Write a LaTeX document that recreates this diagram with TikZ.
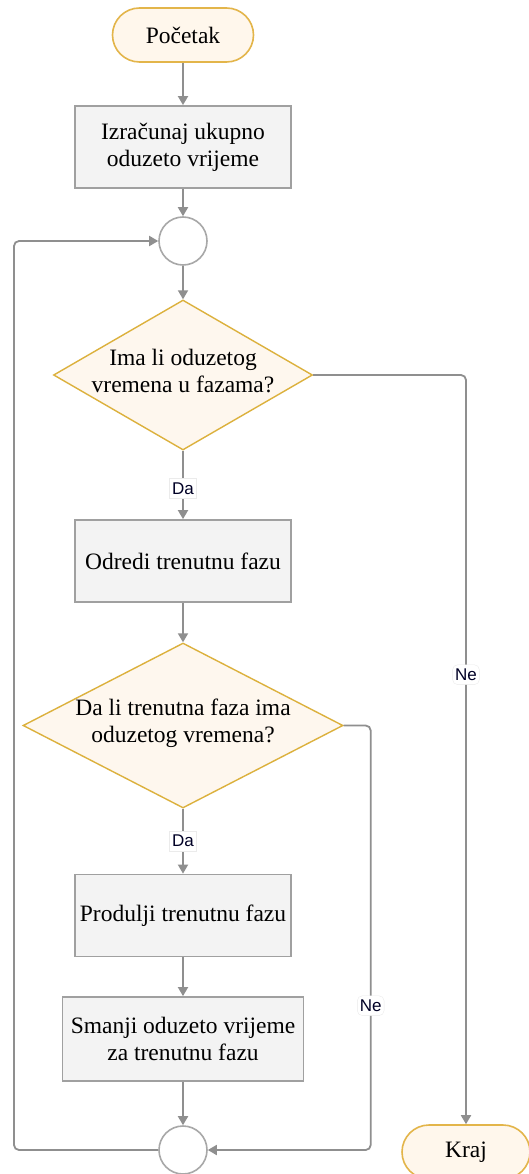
\documentclass[tikz,border=0pt]{standalone}
\usepackage{fontspec}
\setmainfont{Liberation Serif}
\newfontfamily\labfont{Liberation Sans}
\usetikzlibrary{shapes.geometric,arrows.meta}
\definecolor{linec}{HTML}{8F8F8F}
\definecolor{boxfill}{HTML}{F3F3F3}
\definecolor{boxdraw}{HTML}{A0A0A0}
\definecolor{termfill}{HTML}{FFF7EC}
\definecolor{termdraw}{HTML}{E3B54A}
\definecolor{diamfill}{HTML}{FEF7EE}
\definecolor{diamdraw}{HTML}{DCB13D}
\definecolor{circdraw}{HTML}{A8A8A8}
\tikzset{
  term/.style={draw=termdraw, fill=termfill, line width=1.6pt, rounded corners=27pt, minimum height=54pt, inner sep=0pt},
  proc/.style={draw=boxdraw, fill=boxfill, line width=1.8pt, minimum width=216pt, minimum height=82pt, align=center, inner sep=0pt},
  dec/.style={shape=diamond, draw=diamdraw, fill=diamfill, line width=1.4pt, inner sep=0pt},
  junc/.style={shape=circle, draw=circdraw, fill=white, line width=1.6pt, minimum size=48pt, inner sep=0pt},
  conn/.style={draw=linec, line width=1.8pt, -{Triangle[width=10pt,length=9pt]}},
  lab/.style={font=\labfont\fontsize{17}{18}\selectfont, fill=white, draw=black!8, line width=0.4pt, inner xsep=2.5pt, inner ysep=4pt, text=black!85!blue}
}
\begin{document}
\begin{tikzpicture}[x=1pt, y=-1pt, font=\fontsize{23.5}{27}\selectfont]
\path[use as bounding box, fill=white] (0,0) rectangle (528,1174);
\node[term, minimum width=141pt] (start) at (183,35) {Početak};
\node[proc] (b1) at (183,147) {Izračunaj ukupno\\oduzeto vrijeme};
\node[junc] (c1) at (183,241) {};
\node[dec, minimum width=259pt, minimum height=150pt,
      label={[align=center, yshift=4pt]center:Ima li oduzetog\\vremena u fazama?}] (d1) at (183,375) {};
\node[proc] (b2) at (183,561) {Odredi trenutnu fazu};
\node[dec, minimum width=320pt, minimum height=165pt,
      label={[align=center, yshift=2pt]center:Da li trenutna faza ima\\oduzetog vremena?}] (d2) at (183,725.5) {};
\node[proc] (b3) at (183,915.5) {Produlji trenutnu fazu};
\node[proc, minimum width=241pt, minimum height=84pt] (b4) at (183,1039) {Smanji oduzeto vrijeme\\za trenutnu fazu};
\node[junc] (c2) at (183,1150) {};
\node[term, minimum width=128pt] (kraj) at (466,1152) {Kraj};

\draw[conn] (start) -- (b1);
\draw[conn] (b1) -- (c1);
\draw[conn] (c1) -- (d1);
\draw[conn] (d1) -- node[lab, pos=0.55]{Da} (b2);
\draw[conn] (b2) -- (d2);
\draw[conn] (d2) -- node[lab]{Da} (b3);
\draw[conn] (b3) -- (b4);
\draw[conn] (b4) -- (c2);
\draw[conn, rounded corners=5pt] (d2.east) -- ++(27,0) |- node[lab, pos=0.33]{Ne} (c2.east);
\draw[conn, rounded corners=5pt] (d1.east) -| node[lab, pos=0.70]{Ne} (kraj.north);
\draw[conn, rounded corners=5pt] (c2.west) -- (14,1150) |- (c1.west);
\end{tikzpicture}
\end{document}
